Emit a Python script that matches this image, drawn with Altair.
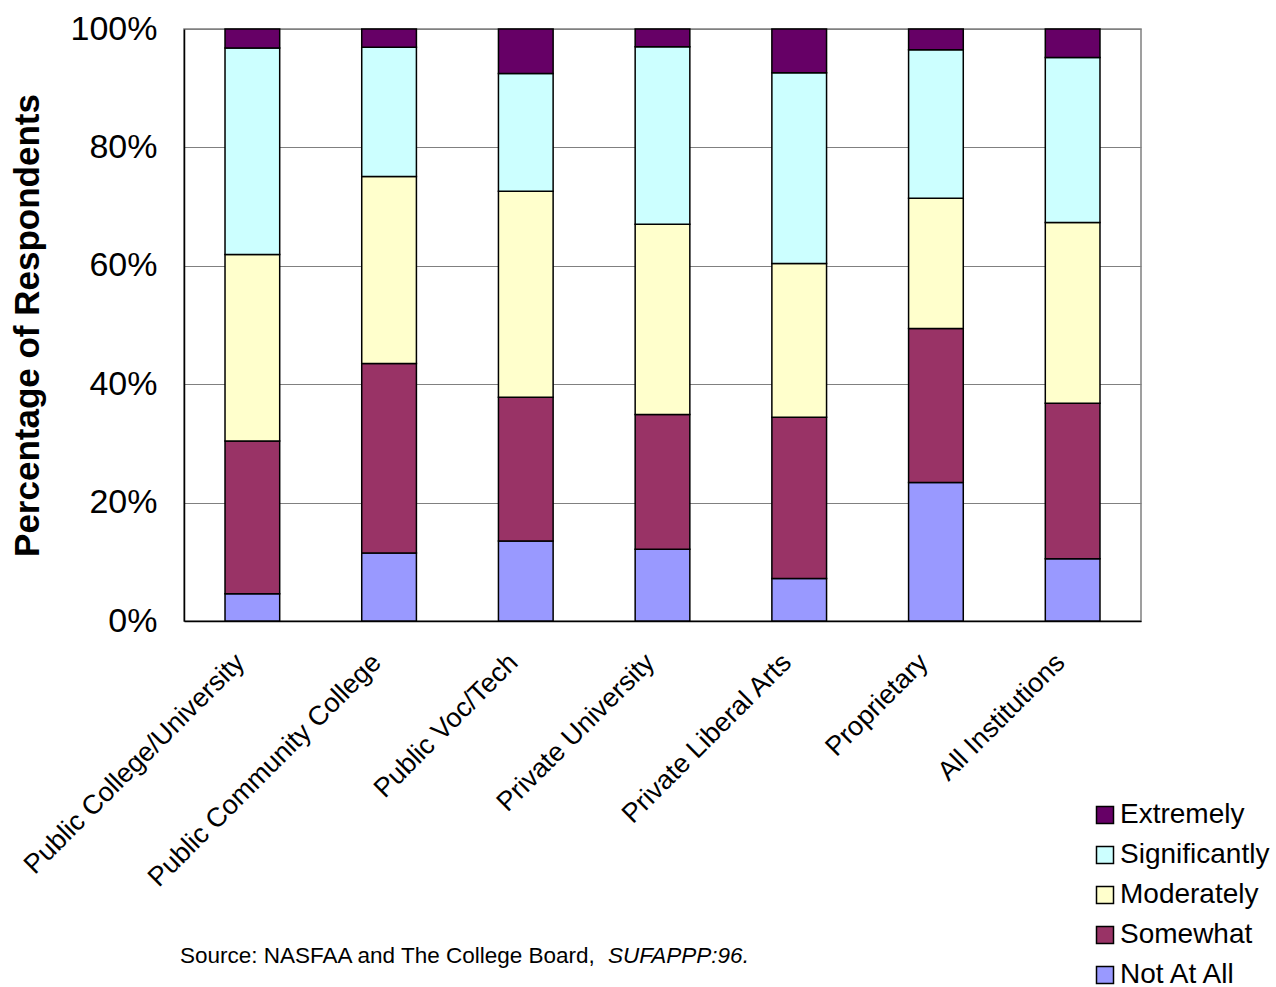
import altair as alt
import pandas as pd

institutions = [
    "Public College/University",
    "Public Community College",
    "Public Voc/Tech",
    "Private University",
    "Private Liberal Arts",
    "Proprietary",
    "All Institutions",
]
levels = ["Extremely", "Significantly", "Moderately", "Somewhat", "Not At All"]
colors = ["#660066", "#CCFFFF", "#FFFFCC", "#993366", "#9999FF"]

not_at_all = [4.6, 11.5, 13.5, 12.1, 7.2, 23.4, 10.5]
somewhat = [25.8, 32.0, 24.3, 22.8, 27.2, 26.0, 26.3]
moderately = [31.5, 31.6, 34.8, 32.1, 26.0, 22.0, 30.5]
significantly = [34.9, 21.8, 19.9, 30.0, 32.2, 25.1, 27.9]
extremely = [3.2, 3.1, 7.5, 3.0, 7.4, 3.5, 4.8]

y_ticks = [0, 0.2, 0.4, 0.6, 0.8, 1.0]
source_plain = "Source: NASFAA and The College Board, "
source_italic = "SUFAPPP:96."

series = {
    "Not At All": not_at_all,
    "Somewhat": somewhat,
    "Moderately": moderately,
    "Significantly": significantly,
    "Extremely": extremely,
}
stack_rank = {"Not At All": 0, "Somewhat": 1, "Moderately": 2, "Significantly": 3, "Extremely": 4}

rows = []
for lvl, vals in series.items():
    for inst, v in zip(institutions, vals):
        rows.append({"institution": inst, "level": lvl, "value": v, "rank": stack_rank[lvl]})
df = pd.DataFrame(rows)

FONT = "Liberation Sans"

bars = alt.Chart(df).mark_bar(stroke="black", strokeWidth=1.5).encode(
    x=alt.X(
        "institution:N",
        sort=institutions,
        scale=alt.Scale(paddingInner=0.6, paddingOuter=0.3),
        axis=alt.Axis(
            title=None,
            labelAngle=-45,
            labelAlign="right",
            labelBaseline="middle",
            labelFontSize=27,
            labelFont=FONT,
            labelColor="black",
            labelPadding=37,
            labelOffset=-12,
            labelLimit=500,
            ticks=False,
            domainColor="black",
            domainWidth=1.5,
            grid=False,
        ),
    ),
    y=alt.Y(
        "value:Q",
        stack="normalize",
        scale=alt.Scale(domain=[0, 1]),
        axis=alt.Axis(
            format=".0%",
            values=y_ticks,
            title="Percentage of Respondents",
            titleFont=FONT,
            titleFontSize=35,
            titleFontWeight="bold",
            titleColor="black",
            titleAngle=-90,
            titleX=-157,
            titleY=296,
            titleAlign="center",
            titleBaseline="middle",
            labelFont=FONT,
            labelFontSize=34,
            labelColor="black",
            labelPadding=27,
            ticks=False,
            domainColor="black",
            domainWidth=1.5,
            grid=True,
            gridColor="#808080",
            gridWidth=1,
        ),
    ),
    color=alt.Color(
        "level:N",
        scale=alt.Scale(domain=levels, range=colors),
        legend=alt.Legend(
            title=None,
            orient="none",
            legendX=907,
            legendY=772,
            symbolType="square",
            symbolSize=289,
            symbolStrokeColor="black",
            symbolStrokeWidth=1.5,
            labelFont=FONT,
            labelFontSize=28,
            labelColor="black",
            labelOffset=1,
            rowPadding=12,
            padding=0,
            labelLimit=500,
        ),
    ),
    order=alt.Order("rank:Q", sort="ascending"),
)

src1 = alt.Chart(pd.DataFrame({"t": [source_plain]})).mark_text(
    align="left", baseline="alphabetic", fontSize=22.5, font=FONT, color="black"
).encode(x=alt.value(180 - 184), y=alt.value(963 - 29), text="t:N")

src2 = alt.Chart(pd.DataFrame({"t": [source_italic]})).mark_text(
    align="left", baseline="alphabetic", fontSize=22.5, font=FONT, fontStyle="italic", color="black"
).encode(x=alt.value(608 - 184), y=alt.value(963 - 29), text="t:N")

chart = (
    alt.layer(bars, src1, src2)
    .properties(
        width=957,
        height=592,
        autosize=alt.AutoSizeParams(type="none"),
        padding={"left": 184, "top": 29, "right": 135, "bottom": 366},
        background="white",
    )
    .configure_view(stroke="#808080", strokeWidth=1.5)
)

chart.save("out.html", embed_options={"renderer": "svg", "actions": False})
